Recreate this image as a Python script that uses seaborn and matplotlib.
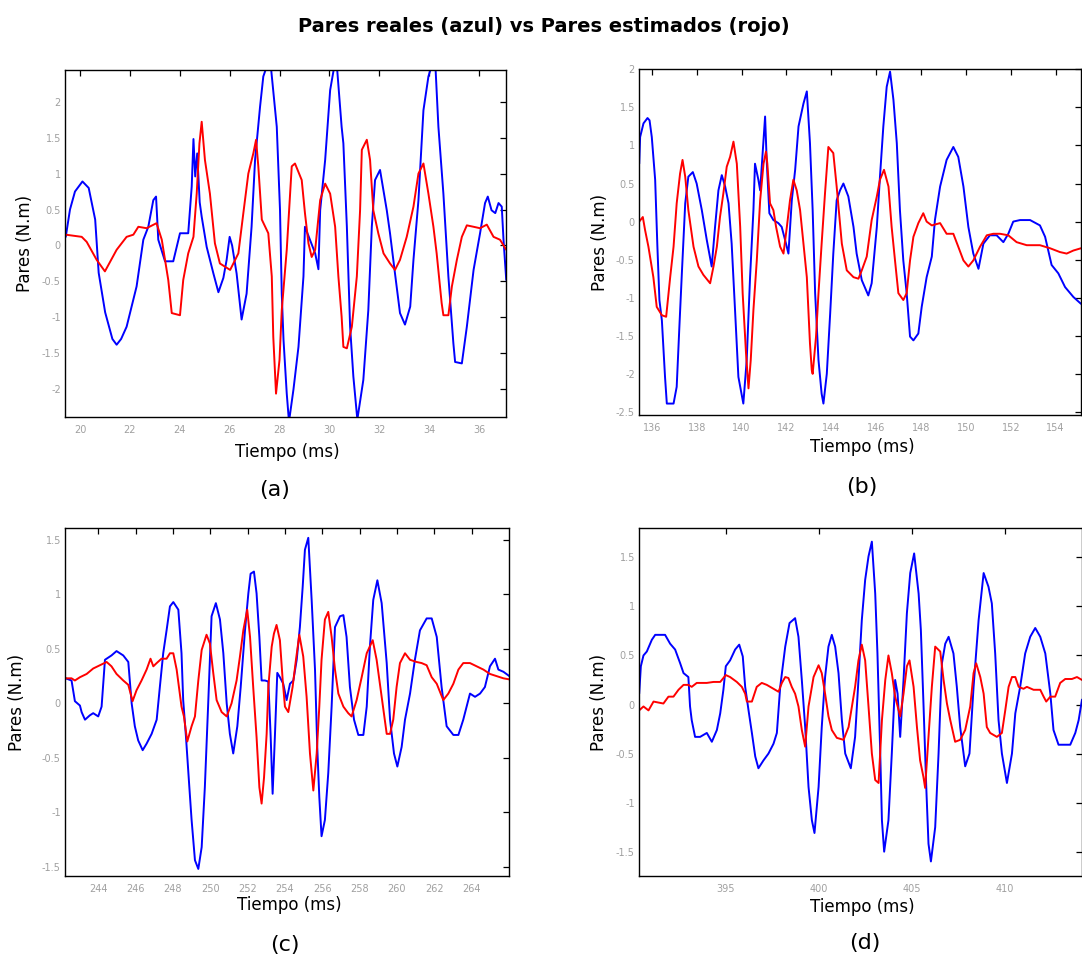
import numpy as np
import pandas as pd
import matplotlib
matplotlib.use("Agg")
import matplotlib.pyplot as plt
from matplotlib.ticker import FuncFormatter, FixedLocator
import seaborn as sns

# ---------------- data ----------------
# (a)
a_real_t = [19.43, 19.6, 19.8, 20.1, 20.35, 20.61, 20.75, 21.01, 21.3, 21.47, 21.65, 21.87, 22.27, 22.54, 22.74, 22.94, 23.05, 23.14, 23.41, 23.74, 24.01, 24.34, 24.48, 24.55, 24.62, 24.70, 24.80, 24.88, 25.08, 25.35, 25.55, 25.75, 25.88, 26.0, 26.1, 26.28, 26.48, 26.68, 26.88, 27.02, 27.22, 27.35, 27.5, 27.65, 27.89, 28.02, 28.09, 28.16, 28.29, 28.38, 28.56, 28.76, 28.96, 29.02, 29.22, 29.43, 29.56, 29.63, 29.83, 30.03, 30.2, 30.3, 30.49, 30.56, 30.70, 30.83, 30.96, 31.12, 31.36, 31.56, 31.70, 31.83, 32.03, 32.30, 32.43, 32.63, 32.83, 33.03, 33.24, 33.37, 33.57, 33.77, 33.97, 34.1, 34.25, 34.37, 34.57, 34.77, 34.97, 35.04, 35.31, 35.51, 35.78, 36.04, 36.24, 36.35, 36.5, 36.65, 36.78, 36.91, 36.98, 37.09]
a_real_v = [0.12, 0.5, 0.75, 0.89, 0.8, 0.36, -0.38, -0.93, -1.3, -1.38, -1.3, -1.13, -0.57, 0.08, 0.26, 0.63, 0.68, 0.08, -0.22, -0.22, 0.17, 0.17, 0.82, 1.48, 0.96, 1.28, 0.6, 0.4, -0.02, -0.39, -0.65, -0.45, -0.2, 0.12, 0.0, -0.39, -1.03, -0.67, 0.26, 1.19, 1.93, 2.35, 2.5, 2.5, 1.65, 0.49, -0.67, -1.31, -2.06, -2.45, -2.0, -1.41, -0.43, 0.26, 0.08, -0.11, -0.33, 0.49, 1.19, 2.16, 2.5, 2.5, 1.65, 1.42, 0.26, -1.13, -1.82, -2.42, -1.87, -0.9, 0.26, 0.91, 1.05, 0.49, 0.17, -0.39, -0.94, -1.1, -0.85, -0.2, 0.63, 1.88, 2.35, 2.5, 2.5, 1.65, 0.72, -0.43, -1.36, -1.62, -1.64, -1.13, -0.34, 0.17, 0.59, 0.68, 0.49, 0.45, 0.59, 0.54, 0.08, -0.48]
a_est_t = [19.43, 20.07, 20.27, 20.67, 21.0, 21.47, 21.87, 22.14, 22.34, 22.67, 23.07, 23.28, 23.41, 23.54, 23.68, 24.01, 24.14, 24.34, 24.55, 24.68, 24.79, 24.88, 25.01, 25.21, 25.41, 25.61, 26.02, 26.15, 26.35, 26.55, 26.75, 26.95, 27.06, 27.15, 27.29, 27.55, 27.69, 27.75, 27.86, 28.0, 28.09, 28.29, 28.49, 28.62, 28.89, 29.02, 29.16, 29.29, 29.43, 29.63, 29.83, 30.03, 30.23, 30.36, 30.49, 30.56, 30.70, 30.90, 31.10, 31.23, 31.30, 31.50, 31.63, 31.76, 31.96, 32.17, 32.43, 32.63, 32.83, 33.10, 33.37, 33.57, 33.77, 33.97, 34.17, 34.30, 34.50, 34.57, 34.77, 34.91, 35.11, 35.31, 35.51, 35.78, 36.04, 36.31, 36.58, 36.84, 37.09]
a_est_v = [0.15, 0.12, 0.05, -0.2, -0.36, -0.06, 0.12, 0.15, 0.26, 0.24, 0.31, 0.08, -0.2, -0.48, -0.94, -0.97, -0.48, -0.11, 0.12, 0.72, 1.42, 1.72, 1.19, 0.72, 0.03, -0.25, -0.34, -0.25, -0.11, 0.45, 1.0, 1.28, 1.47, 1.1, 0.36, 0.17, -0.43, -1.27, -2.06, -1.59, -0.9, -0.06, 1.1, 1.14, 0.91, 0.45, 0.03, -0.16, -0.06, 0.63, 0.86, 0.72, 0.26, -0.43, -0.99, -1.41, -1.43, -1.13, -0.43, 0.49, 1.33, 1.47, 1.19, 0.49, 0.17, -0.11, -0.25, -0.34, -0.2, 0.12, 0.54, 1.0, 1.14, 0.72, 0.26, -0.11, -0.8, -0.97, -0.97, -0.57, -0.2, 0.12, 0.28, 0.26, 0.24, 0.29, 0.12, 0.08, -0.06]

# (b)
b_real_t = [135.44, 135.48, 135.63, 135.81, 135.90, 136.0, 136.15, 136.25, 136.34, 136.45, 136.59, 136.67, 136.97, 137.11, 137.23, 137.34, 137.49, 137.63, 137.83, 138.0, 138.23, 138.45, 138.67, 138.82, 138.97, 139.12, 139.27, 139.42, 139.56, 139.71, 139.86, 140.08, 140.23, 140.38, 140.53, 140.60, 140.75, 140.83, 140.95, 141.05, 141.12, 141.24, 141.42, 141.64, 141.79, 141.94, 142.09, 142.24, 142.39, 142.54, 142.76, 142.91, 143.05, 143.17, 143.28, 143.43, 143.57, 143.65, 143.80, 143.95, 144.09, 144.24, 144.39, 144.54, 144.76, 144.99, 145.13, 145.36, 145.65, 145.80, 146.03, 146.17, 146.32, 146.47, 146.62, 146.77, 146.92, 147.06, 147.21, 147.36, 147.51, 147.66, 147.88, 148.03, 148.25, 148.48, 148.62, 148.85, 149.14, 149.44, 149.66, 149.89, 150.11, 150.33, 150.56, 150.78, 151.07, 151.37, 151.67, 151.89, 152.11, 152.41, 152.86, 153.30, 153.53, 153.82, 154.12, 154.42, 154.79, 155.13]
b_real_v = [0.76, 1.11, 1.29, 1.36, 1.33, 1.11, 0.55, -0.33, -1.03, -1.30, -2.04, -2.39, -2.39, -2.17, -1.38, -0.68, 0.24, 0.59, 0.65, 0.50, 0.15, -0.24, -0.59, -0.07, 0.41, 0.61, 0.46, 0.24, -0.29, -1.16, -2.04, -2.39, -1.82, -0.73, 0.15, 0.76, 0.55, 0.41, 0.94, 1.38, 0.81, 0.11, 0.02, -0.02, -0.07, -0.24, -0.42, 0.28, 0.68, 1.25, 1.55, 1.71, 1.03, 0.15, -0.94, -1.82, -2.26, -2.39, -2.0, -1.21, -0.42, 0.28, 0.41, 0.50, 0.33, -0.07, -0.42, -0.77, -0.97, -0.81, -0.07, 0.59, 1.25, 1.77, 1.97, 1.60, 1.03, 0.15, -0.51, -0.94, -1.51, -1.56, -1.47, -1.12, -0.73, -0.46, 0.02, 0.46, 0.81, 0.98, 0.85, 0.46, -0.07, -0.42, -0.62, -0.29, -0.18, -0.18, -0.27, -0.16, 0.0, 0.02, 0.02, -0.05, -0.2, -0.57, -0.68, -0.86, -0.99, -1.08]
b_est_t = [135.44, 135.60, 135.70, 135.85, 136.07, 136.22, 136.45, 136.64, 136.82, 136.97, 137.11, 137.26, 137.37, 137.49, 137.63, 137.86, 138.08, 138.30, 138.60, 138.75, 138.90, 139.04, 139.19, 139.34, 139.49, 139.64, 139.79, 139.94, 140.05, 140.20, 140.31, 140.41, 140.53, 140.68, 140.83, 140.98, 141.09, 141.15, 141.27, 141.42, 141.54, 141.72, 141.87, 142.02, 142.16, 142.31, 142.46, 142.61, 142.76, 142.91, 143.05, 143.13, 143.17, 143.32, 143.43, 143.57, 143.72, 143.87, 144.09, 144.24, 144.47, 144.69, 144.99, 145.21, 145.36, 145.58, 145.80, 146.03, 146.17, 146.35, 146.55, 146.69, 146.84, 146.99, 147.21, 147.36, 147.51, 147.66, 147.88, 148.10, 148.25, 148.48, 148.85, 149.14, 149.44, 149.66, 149.89, 150.11, 150.33, 150.63, 150.93, 151.22, 151.52, 151.89, 152.26, 152.71, 153.30, 153.75, 154.19, 154.49, 154.79, 155.13]
b_est_v = [0.0, 0.06, -0.11, -0.33, -0.73, -1.12, -1.23, -1.25, -0.73, -0.33, 0.24, 0.63, 0.81, 0.59, 0.15, -0.33, -0.59, -0.70, -0.81, -0.59, -0.33, 0.06, 0.37, 0.72, 0.85, 1.05, 0.76, -0.07, -0.94, -1.73, -2.19, -1.82, -1.16, -0.51, 0.28, 0.76, 0.92, 0.76, 0.24, 0.15, -0.07, -0.33, -0.42, -0.07, 0.28, 0.55, 0.41, 0.15, -0.29, -0.73, -1.60, -1.95, -2.0, -1.51, -0.94, -0.29, 0.37, 0.98, 0.90, 0.46, -0.29, -0.64, -0.73, -0.75, -0.64, -0.46, 0.02, 0.33, 0.55, 0.68, 0.46, -0.07, -0.51, -0.94, -1.03, -0.94, -0.51, -0.2, -0.02, 0.11, 0.0, -0.05, -0.02, -0.16, -0.16, -0.33, -0.51, -0.59, -0.51, -0.33, -0.18, -0.16, -0.16, -0.18, -0.27, -0.31, -0.31, -0.35, -0.40, -0.42, -0.38, -0.35]

# (c)
c_real_t = [242.25, 242.57, 242.75, 243.02, 243.11, 243.29, 243.55, 243.73, 244.0, 244.18, 244.36, 244.71, 244.98, 245.34, 245.61, 245.79, 245.96, 246.14, 246.38, 246.59, 246.86, 247.13, 247.30, 247.48, 247.66, 247.84, 248.02, 248.29, 248.46, 248.55, 248.70, 248.88, 249.0, 249.18, 249.36, 249.54, 249.71, 249.89, 250.07, 250.30, 250.52, 250.70, 250.88, 251.05, 251.23, 251.45, 251.63, 251.86, 252.04, 252.16, 252.34, 252.48, 252.63, 252.75, 252.93, 253.11, 253.23, 253.34, 253.46, 253.59, 253.73, 253.91, 254.09, 254.27, 254.45, 254.63, 254.80, 254.95, 255.07, 255.25, 255.43, 255.61, 255.73, 255.84, 255.96, 256.14, 256.32, 256.50, 256.68, 256.95, 257.13, 257.30, 257.48, 257.70, 257.93, 258.20, 258.38, 258.55, 258.73, 258.95, 259.18, 259.45, 259.63, 259.84, 260.02, 260.25, 260.43, 260.70, 260.96, 261.23, 261.59, 261.86, 262.13, 262.39, 262.66, 263.02, 263.29, 263.55, 263.91, 264.18, 264.45, 264.71, 264.98, 265.25, 265.43, 265.70, 266.02]
c_real_v = [0.23, 0.21, 0.02, -0.02, -0.08, -0.15, -0.11, -0.09, -0.12, -0.03, 0.40, 0.44, 0.48, 0.44, 0.38, 0.0, -0.21, -0.34, -0.43, -0.37, -0.28, -0.15, 0.15, 0.46, 0.67, 0.89, 0.93, 0.86, 0.46, 0.03, -0.31, -0.77, -1.07, -1.44, -1.52, -1.32, -0.77, 0.0, 0.80, 0.92, 0.77, 0.46, 0.0, -0.28, -0.46, -0.21, 0.15, 0.67, 1.01, 1.19, 1.21, 1.01, 0.61, 0.21, 0.21, 0.20, -0.28, -0.83, -0.31, 0.28, 0.24, 0.18, 0.03, 0.18, 0.21, 0.40, 0.70, 1.07, 1.41, 1.52, 0.95, 0.31, -0.40, -0.86, -1.22, -1.07, -0.64, -0.03, 0.70, 0.80, 0.81, 0.61, 0.15, -0.15, -0.29, -0.29, -0.03, 0.52, 0.95, 1.13, 0.92, 0.37, -0.15, -0.46, -0.58, -0.40, -0.15, 0.09, 0.40, 0.67, 0.78, 0.78, 0.61, 0.15, -0.21, -0.29, -0.29, -0.15, 0.09, 0.06, 0.09, 0.15, 0.34, 0.41, 0.31, 0.29, 0.25]
c_est_t = [242.25, 242.57, 242.75, 243.02, 243.38, 243.73, 244.09, 244.45, 244.71, 244.98, 245.34, 245.61, 245.84, 246.05, 246.32, 246.59, 246.80, 246.95, 247.13, 247.39, 247.66, 247.84, 248.02, 248.20, 248.46, 248.59, 248.77, 249.0, 249.18, 249.36, 249.54, 249.80, 249.98, 250.16, 250.34, 250.61, 250.88, 251.14, 251.41, 251.59, 251.77, 251.98, 252.13, 252.30, 252.48, 252.63, 252.75, 252.88, 253.02, 253.11, 253.29, 253.41, 253.55, 253.73, 253.88, 254.0, 254.18, 254.41, 254.59, 254.77, 254.98, 255.16, 255.34, 255.52, 255.70, 255.84, 255.96, 256.14, 256.32, 256.50, 256.68, 256.86, 257.13, 257.39, 257.57, 257.84, 258.11, 258.38, 258.70, 258.91, 259.18, 259.45, 259.63, 259.80, 259.98, 260.16, 260.43, 260.70, 261.05, 261.32, 261.59, 261.86, 262.13, 262.48, 262.75, 263.02, 263.29, 263.55, 263.91, 264.27, 264.63, 264.98, 265.34, 265.70, 266.02]
c_est_v = [0.23, 0.23, 0.21, 0.24, 0.27, 0.32, 0.35, 0.38, 0.34, 0.27, 0.21, 0.17, 0.02, 0.12, 0.21, 0.31, 0.41, 0.34, 0.37, 0.41, 0.41, 0.46, 0.46, 0.31, -0.03, -0.12, -0.35, -0.21, -0.12, 0.21, 0.49, 0.63, 0.55, 0.28, 0.03, -0.08, -0.12, 0.0, 0.21, 0.43, 0.67, 0.86, 0.61, 0.15, -0.31, -0.77, -0.92, -0.68, -0.28, 0.15, 0.52, 0.64, 0.72, 0.58, 0.21, -0.03, -0.08, 0.15, 0.40, 0.63, 0.43, 0.06, -0.46, -0.80, -0.46, -0.03, 0.40, 0.77, 0.84, 0.61, 0.31, 0.09, -0.03, -0.09, -0.12, 0.03, 0.24, 0.46, 0.58, 0.40, 0.06, -0.28, -0.28, -0.15, 0.15, 0.37, 0.46, 0.40, 0.38, 0.37, 0.35, 0.24, 0.18, 0.03, 0.09, 0.18, 0.31, 0.37, 0.37, 0.34, 0.31, 0.27, 0.25, 0.23, 0.22]

# (d)
d_real_t = [390.35, 390.44, 390.58, 390.76, 391.03, 391.21, 391.74, 392.01, 392.28, 392.55, 392.73, 392.99, 393.08, 393.17, 393.35, 393.62, 393.98, 394.25, 394.52, 394.70, 394.87, 395.0, 395.23, 395.50, 395.72, 395.91, 396.04, 396.22, 396.40, 396.58, 396.75, 397.02, 397.29, 397.56, 397.74, 397.92, 398.19, 398.42, 398.72, 398.90, 399.08, 399.26, 399.44, 399.62, 399.76, 399.98, 400.15, 400.33, 400.51, 400.69, 400.87, 401.05, 401.23, 401.41, 401.71, 401.94, 402.12, 402.30, 402.48, 402.66, 402.84, 403.02, 403.14, 403.29, 403.38, 403.50, 403.73, 403.91, 404.09, 404.22, 404.36, 404.54, 404.72, 404.90, 405.11, 405.35, 405.47, 405.61, 405.76, 405.88, 406.01, 406.24, 406.42, 406.60, 406.78, 406.96, 407.22, 407.40, 407.58, 407.85, 408.08, 408.30, 408.57, 408.84, 409.10, 409.28, 409.46, 409.64, 409.82, 410.09, 410.36, 410.54, 410.80, 411.07, 411.34, 411.61, 411.88, 412.15, 412.42, 412.59, 412.86, 413.49, 413.76, 413.94, 414.12]
d_real_v = [0.11, 0.39, 0.50, 0.54, 0.66, 0.71, 0.71, 0.62, 0.56, 0.42, 0.32, 0.28, -0.02, -0.16, -0.33, -0.33, -0.29, -0.38, -0.26, -0.09, 0.15, 0.39, 0.45, 0.56, 0.61, 0.49, 0.18, -0.06, -0.29, -0.53, -0.65, -0.57, -0.50, -0.40, -0.29, 0.18, 0.59, 0.83, 0.88, 0.69, 0.25, -0.23, -0.84, -1.18, -1.31, -0.84, -0.23, 0.28, 0.59, 0.71, 0.59, 0.32, -0.16, -0.50, -0.65, -0.33, 0.25, 0.86, 1.27, 1.51, 1.66, 1.13, 0.52, -0.50, -1.18, -1.50, -1.18, -0.50, 0.25, 0.11, -0.33, 0.25, 0.93, 1.34, 1.54, 1.13, 0.76, 0.01, -0.84, -1.42, -1.60, -1.25, -0.50, 0.42, 0.62, 0.69, 0.52, 0.18, -0.23, -0.63, -0.50, 0.18, 0.86, 1.34, 1.20, 1.03, 0.52, -0.16, -0.50, -0.80, -0.50, -0.09, 0.18, 0.52, 0.69, 0.78, 0.69, 0.52, 0.11, -0.26, -0.41, -0.41, -0.29, -0.16, 0.05]
d_est_t = [390.35, 390.58, 390.85, 391.12, 391.38, 391.65, 391.92, 392.19, 392.46, 392.73, 392.99, 393.17, 393.44, 393.98, 394.34, 394.70, 395.0, 395.23, 395.59, 395.86, 396.04, 396.13, 396.40, 396.66, 396.93, 397.20, 397.56, 397.83, 398.01, 398.19, 398.36, 398.54, 398.72, 398.90, 399.08, 399.26, 399.44, 399.71, 399.98, 400.15, 400.33, 400.51, 400.69, 400.96, 401.32, 401.59, 401.77, 401.94, 402.12, 402.30, 402.48, 402.66, 402.84, 403.02, 403.20, 403.38, 403.56, 403.73, 403.91, 404.09, 404.36, 404.54, 404.72, 404.86, 405.08, 405.26, 405.43, 405.61, 405.70, 405.88, 406.06, 406.24, 406.51, 406.69, 406.87, 407.05, 407.31, 407.58, 407.85, 408.12, 408.30, 408.44, 408.66, 408.84, 409.01, 409.19, 409.55, 409.82, 410.0, 410.18, 410.36, 410.54, 410.72, 410.98, 411.16, 411.52, 411.88, 412.06, 412.20, 412.42, 412.68, 412.95, 413.22, 413.58, 413.85, 414.12]
d_est_v = [-0.06, -0.02, -0.06, 0.03, 0.02, 0.01, 0.08, 0.08, 0.15, 0.20, 0.20, 0.18, 0.22, 0.22, 0.23, 0.23, 0.30, 0.28, 0.23, 0.18, 0.11, 0.03, 0.03, 0.18, 0.22, 0.20, 0.16, 0.13, 0.22, 0.28, 0.27, 0.18, 0.11, -0.02, -0.26, -0.43, -0.02, 0.28, 0.40, 0.32, 0.11, -0.12, -0.26, -0.34, -0.36, -0.23, -0.02, 0.18, 0.45, 0.61, 0.45, -0.02, -0.50, -0.77, -0.80, -0.16, 0.25, 0.50, 0.32, 0.08, -0.12, 0.11, 0.39, 0.45, 0.18, -0.23, -0.57, -0.74, -0.85, -0.33, 0.18, 0.59, 0.54, 0.25, 0.01, -0.16, -0.38, -0.36, -0.26, -0.02, 0.32, 0.42, 0.28, 0.11, -0.23, -0.29, -0.33, -0.29, -0.06, 0.18, 0.28, 0.28, 0.18, 0.16, 0.18, 0.15, 0.15, 0.08, 0.03, 0.08, 0.08, 0.22, 0.26, 0.26, 0.28, 0.25]

panel_letters = ["(a)", "(b)", "(c)", "(d)"]
x_ticks = [[20, 22, 24, 26, 28, 30, 32, 34, 36],
           [136, 138, 140, 142, 144, 146, 148, 150, 152, 154],
           [244, 246, 248, 250, 252, 254, 256, 258, 260, 262, 264],
           [395, 400, 405, 410]]
y_ticks = [[-2, -1.5, -1, -0.5, 0, 0.5, 1, 1.5, 2],
           [-2.5, -2, -1.5, -1, -0.5, 0, 0.5, 1, 1.5, 2],
           [-1.5, -1, -0.5, 0, 0.5, 1, 1.5],
           [-1.5, -1, -0.5, 0, 0.5, 1, 1.5]]
x_limits = [(19.4, 37.08), (135.43, 155.13), (242.22, 266.0), (390.34, 414.12)]
y_limits = [(-2.385, 2.44), (-2.54, 2.0), (-1.585, 1.61), (-1.745, 1.796)]

title = "Pares reales (azul) vs Pares estimados (rojo)"
xlabel = "Tiempo (ms)"
ylabel = "Pares (N.m)"

# ---------------- plot ----------------
sns.set_theme(style="white")
plt.rcParams["font.family"] = ["DejaVu Sans"]
plt.rcParams["axes.unicode_minus"] = False

W, H = 1082, 960
fig = plt.figure(figsize=(W / 100, H / 100), dpi=100)

# axes boxes in pixels: left, top, right, bottom
boxes = [(65, 70, 506, 417), (639, 69.3, 1081, 415), (65, 528, 509, 876), (639, 528.3, 1082, 875.7)]
ylabel_off = [-40, -39, -48, -40]
xlabel_off = [35, 32, 29, 31]
captions = [(275, 490), (862, 487), (285, 945), (865, 943)]

series = [(a_real_t, a_real_v, a_est_t, a_est_v),
          (b_real_t, b_real_v, b_est_t, b_est_v),
          (c_real_t, c_real_v, c_est_t, c_est_v),
          (d_real_t, d_real_v, d_est_t, d_est_v)]

fmt = FuncFormatter(lambda v, p: "%g" % v)

for i, (l, t, r, b) in enumerate(boxes):
    ax = fig.add_axes([l / W, 1 - b / H, (r - l) / W, (b - t) / H])
    rt, rv, et, ev = series[i]
    df_r = pd.DataFrame({"t": rt, "v": rv})
    df_e = pd.DataFrame({"t": et, "v": ev})
    sns.lineplot(data=df_r, x="t", y="v", color="#0000ff", lw=1.4, ax=ax,
                 estimator=None, sort=False)
    sns.lineplot(data=df_e, x="t", y="v", color="#ff0000", lw=1.4, ax=ax,
                 estimator=None, sort=False)
    ax.set_xlim(*x_limits[i])
    ax.set_ylim(*y_limits[i])
    ax.xaxis.set_major_locator(FixedLocator(x_ticks[i]))
    ax.yaxis.set_major_locator(FixedLocator(y_ticks[i]))
    ax.xaxis.set_major_formatter(fmt)
    ax.yaxis.set_major_formatter(fmt)
    ax.tick_params(direction="in", length=4, width=0.9, top=True, right=True,
                   labelsize=7, labelcolor="#a0a0a0", color="black")
    ax.tick_params(axis="x", pad=6)
    ax.tick_params(axis="y", pad=3)
    for s in ax.spines.values():
        s.set_color("black")
        s.set_linewidth(1.0)
    ax.grid(False)
    ax.set_xlabel(xlabel, fontsize=12, color="black")
    ax.set_ylabel(ylabel, fontsize=12, color="black")
    ax.xaxis.label.set_verticalalignment("center")
    ax.yaxis.label.set_verticalalignment("center")
    ax.xaxis.set_label_coords(0.505, -xlabel_off[i] / (b - t))
    ax.yaxis.set_label_coords(ylabel_off[i] / (r - l), 0.5)
    cx, cy = captions[i]
    fig.text(cx / W, 1 - cy / H, panel_letters[i], ha="center", va="center",
             fontsize=16, color="black")

fig.text(544 / W, 1 - 27 / H, title, ha="center", va="center", fontsize=14,
         fontweight="bold", color="black")

fig.savefig("out.png", dpi=100)
